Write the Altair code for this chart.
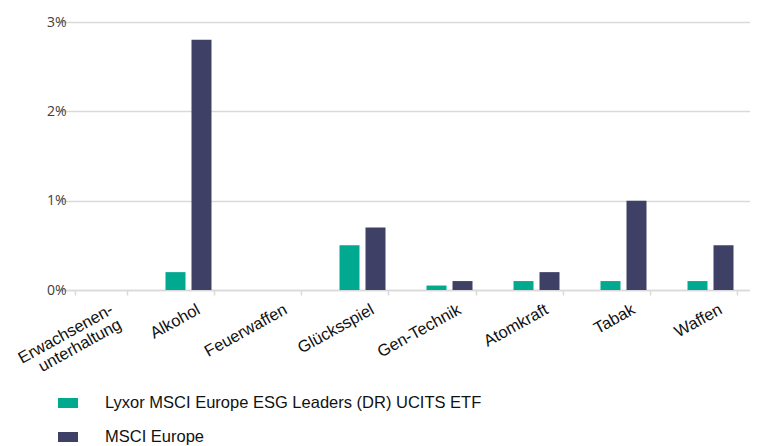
import altair as alt
import pandas as pd

categories = ["Erwachsenen-\nunterhaltung", "Alkohol", "Feuerwaffen", "Glücksspiel",
              "Gen-Technik", "Atomkraft", "Tabak", "Waffen"]
series_names = ["Lyxor MSCI Europe ESG Leaders (DR) UCITS ETF", "MSCI Europe"]
etf_values = [0.0, 0.2, 0.0, 0.5, 0.05, 0.1, 0.1, 0.1]
msci_values = [0.0, 2.8, 0.0, 0.7, 0.1, 0.2, 1.0, 0.5]
colors = ["#00A990", "#3E4066"]
y_ticks = [0, 0.01, 0.02, 0.03]

rows = []
for c, a, b in zip(categories, etf_values, msci_values):
    rows.append({"cat": c, "series": series_names[0], "value": a / 100})
    rows.append({"cat": c, "series": series_names[1], "value": b / 100})
df = pd.DataFrame(rows)

chart = alt.Chart(df).mark_bar(size=20).encode(
    x=alt.X("cat:N", sort=categories, title=None,
            scale=alt.Scale(domain=categories, range=[-15, 681],
                            paddingInner=0.4023, paddingOuter=0.2011),
            axis=alt.Axis(labelAngle=-29, labelAlign="right", labelBaseline="top",
                          labelOffset=6, labelPadding=6, tickSize=5,
                          tickBand="extent", tickColor="#d9d9d9", tickWidth=1.5,
                          domainColor="#d9d9d9", domainWidth=1.5, grid=False,
                          labelFont="Liberation Sans", labelFontSize=16.5,
                          labelColor="#111111", labelLineHeight=17,
                          labelExpr="split(datum.label, '\\n')")),
    xOffset=alt.XOffset("series:N", sort=series_names,
                        scale=alt.Scale(paddingInner=0.2308, paddingOuter=0.1154)),
    y=alt.Y("value:Q", title=None,
            scale=alt.Scale(domain=[0, 0.03], nice=False),
            axis=alt.Axis(values=y_ticks, format=".0%", domain=False, ticks=False,
                          gridColor="#d9d9d9", gridWidth=1.5, labelPadding=7,
                          labelFont="Open Sans", labelFontSize=14,
                          labelColor="#404040")),
    color=alt.Color("series:N", sort=series_names,
                    scale=alt.Scale(domain=series_names, range=colors),
                    legend=alt.Legend(title=None, orient="none", legendX=-15, legendY=371,
                                      direction="vertical",
                                      symbolType="M-1,-0.5H1V0.5H-1Z", symbolSize=400,
                                      symbolStrokeWidth=0, rowPadding=15, labelOffset=27,
                                      labelFont="Liberation Sans", labelFontSize=16.5,
                                      labelColor="#111111", labelLimit=600)),
).properties(
    width=677, height=268,
    autosize=alt.AutoSizeParams(type="none"),
    padding={"left": 65, "top": 14, "right": 0, "bottom": 156},
).configure_view(stroke=None)

chart.save("out.html", embed_options={"renderer": "svg", "actions": False})
